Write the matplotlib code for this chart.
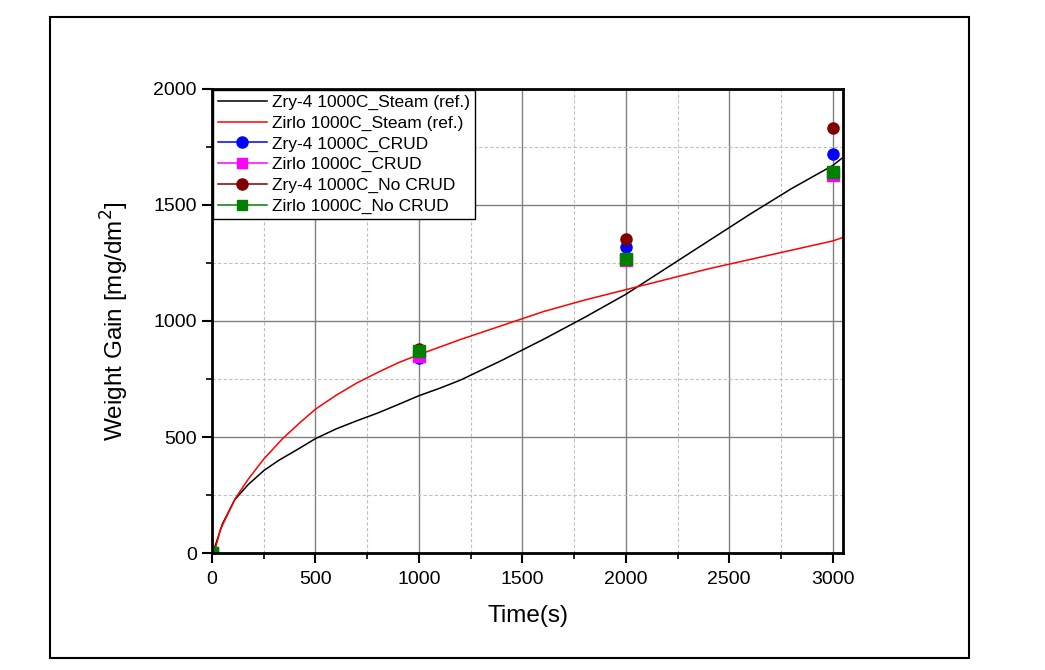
import numpy as np
import matplotlib
matplotlib.use("Agg")
import matplotlib.pyplot as plt
from matplotlib.lines import Line2D
from matplotlib.patches import Rectangle
from matplotlib.ticker import MultipleLocator

plt.rcParams['font.family'] = ['Liberation Sans', 'DejaVu Sans']

# reference steam curves
t_zry = [0, 15, 50, 110, 175, 250, 320, 420, 500, 600, 700, 800, 900, 1000,
         1100, 1200, 1400, 1600, 1800, 2000, 2200, 2400, 2600, 2800, 3000, 3050]
w_zry = [0, 30, 125, 230, 295, 355, 398, 450, 493, 535, 570, 603, 640, 678,
         710, 745, 830, 920, 1015, 1115, 1230, 1345, 1460, 1570, 1670, 1705]
t_zirlo = [10, 15, 40, 110, 175, 250, 340, 420, 500, 600, 700, 800, 900, 1000,
           1200, 1400, 1600, 1800, 2000, 2200, 2400, 2600, 2800, 3000, 3050]
w_zirlo = [0, 15, 100, 232, 318, 405, 492, 558, 620, 680, 733, 778, 820, 855,
           920, 980, 1040, 1090, 1135, 1180, 1225, 1265, 1305, 1345, 1360]

# measured points
t_pts = [0, 1000, 2000, 3000]
zry_crud = [0, 840, 1318, 1719]
zirlo_crud = [0, 848, 1262, 1628]
zry_nocrud = [0, 880, 1352, 1831]
zirlo_nocrud = [0, 870, 1267, 1641]

fig = plt.figure(figsize=(10.45, 6.70), dpi=100)
fig.patches.append(Rectangle((0.0478, 0.0179), 0.8794, 0.9567, transform=fig.transFigure,
                             fill=False, edgecolor='black', linewidth=1.5))
ax = fig.add_axes([0.2029, 0.1746, 0.6038, 0.6926])

ax.plot(t_zry, w_zry, color='black', lw=1.1, label='Zry-4 1000C_Steam (ref.)')
ax.plot(t_zirlo, w_zirlo, color='red', lw=1.1, label='Zirlo 1000C_Steam (ref.)')
ax.plot(t_pts, zry_crud, 'o', color='blue', ms=8, ls='none')
ax.plot(t_pts, zirlo_crud, 's', color='magenta', ms=8, ls='none')
ax.plot(t_pts, zry_nocrud, 'o', color='#800000', ms=8, ls='none')
ax.plot(t_pts, zirlo_nocrud, 's', color='green', ms=8, ls='none')

ax.set_xlim(0, 3050)
ax.set_ylim(0, 2000)
ax.xaxis.set_major_locator(MultipleLocator(500))
ax.xaxis.set_minor_locator(MultipleLocator(250))
ax.yaxis.set_major_locator(MultipleLocator(500))
ax.yaxis.set_minor_locator(MultipleLocator(250))
ax.grid(which='major', color='#808080', lw=1.0, ls='-')
ax.grid(which='minor', color='#c0c0c0', lw=0.8, ls=(0, (3, 2)))
ax.set_axisbelow(True)
ax.tick_params(which='major', direction='out', length=7.5, width=1.5, labelsize=14)
ax.tick_params(axis='x', which='major', pad=5.5)
ax.tick_params(which='minor', direction='out', length=4.5, width=1.2)
for s in ax.spines.values():
    s.set_linewidth(2.0)

ax.set_xlabel('Time(s)', fontsize=17.5, labelpad=12)
ax.set_ylabel('Weight Gain [mg/dm$^2$]', fontsize=17.5, labelpad=16)

handles = [
    Line2D([], [], color='black', lw=1.1),
    Line2D([], [], color='red', lw=1.1),
    Line2D([], [], color='blue', lw=1.1, marker='o', ms=8),
    Line2D([], [], color='magenta', lw=1.1, marker='s', ms=7),
    Line2D([], [], color='#800000', lw=1.1, marker='o', ms=8),
    Line2D([], [], color='green', lw=1.1, marker='s', ms=7),
]
labels = ['Zry-4 1000C_Steam (ref.)', 'Zirlo 1000C_Steam (ref.)', 'Zry-4 1000C_CRUD',
          'Zirlo 1000C_CRUD', 'Zry-4 1000C_No CRUD', 'Zirlo 1000C_No CRUD']
leg = ax.legend(handles, labels, loc='upper left', fontsize=12.5, frameon=True, fancybox=False,
                borderaxespad=0.05, handlelength=2.8, labelspacing=0.31, borderpad=0.3,
                handletextpad=0.3)
leg.get_frame().set_edgecolor('black')
leg.get_frame().set_linewidth(1.0)
leg.get_frame().set_alpha(1)

fig.savefig('out.png', dpi=100)
